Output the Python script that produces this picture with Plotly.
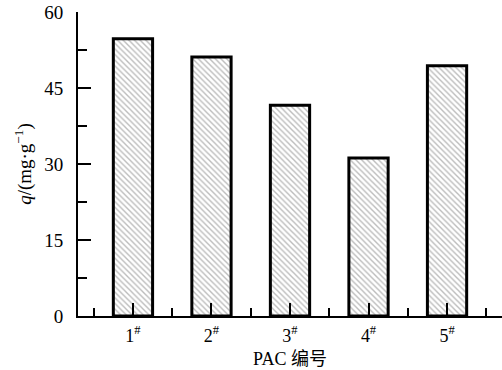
import plotly.graph_objects as go

# PAC samples and their adsorption capacity q (mg/g)
categories = ["1<sup>#</sup>", "2<sup>#</sup>", "3<sup>#</sup>", "4<sup>#</sup>", "5<sup>#</sup>"]
q_values = [54.7, 51.1, 41.6, 31.2, 49.4]

y_ticks = [0, 15, 30, 45, 60]

positions = list(range(1, len(categories) + 1))
serif = "Liberation Serif, Times New Roman, serif"

fig = go.Figure(
    go.Bar(
        x=positions,
        y=q_values,
        width=0.5,
        marker=dict(
            color="white",
            line=dict(color="black", width=3),
            pattern=dict(shape="\\", fgcolor="#7a7a7a", bgcolor="white",
                         size=4, solidity=0.35),
        ),
        showlegend=False,
    )
)

fig.update_layout(
    width=502,
    height=370,
    margin=dict(l=78, r=0, t=12, b=54),
    plot_bgcolor="white",
    paper_bgcolor="white",
    font=dict(family=serif, size=18, color="black"),
    bargap=0.5,
)

fig.update_xaxes(
    range=[0.3, 5.7],
    tickvals=positions,
    ticktext=categories,
    ticks="inside",
    ticklen=13,
    tickwidth=1.5,
    tickcolor="black",
    showline=True,
    linecolor="black",
    linewidth=2,
    showgrid=False,
    zeroline=False,
    layer="above traces",
    ticklabelstandoff=2,
    minor=dict(tickvals=[p - 0.5 for p in positions] + [positions[-1] + 0.5],
               ticks="inside", ticklen=8, tickwidth=1.5, tickcolor="black"),
    title=dict(text="PAC <span style='font-family:Noto Sans CJK SC'>编号</span>",
               font=dict(family=serif, size=18), standoff=2),
    tickfont=dict(family=serif, size=18),
)

fig.update_yaxes(
    range=[0, 60],
    tickvals=y_ticks,
    ticks="inside",
    ticklen=13,
    tickwidth=2,
    tickcolor="black",
    showline=True,
    linecolor="black",
    linewidth=2,
    showgrid=False,
    zeroline=False,
    layer="above traces",
    ticklabelstandoff=9,
    minor=dict(dtick=7.5, ticks="inside", ticklen=9, tickwidth=1.5, tickcolor="black"),
    title=dict(text="<i>q</i>/(mg·g<sup>−1</sup>)", font=dict(family=serif, size=19),
               standoff=8),
    tickfont=dict(family=serif, size=19),
)

fig.write_html("out.html")
